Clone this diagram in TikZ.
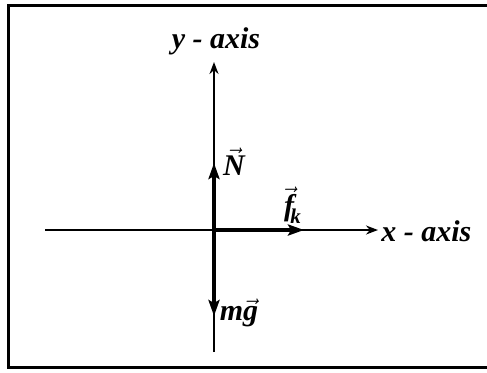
\documentclass[tikz,border=0pt]{standalone}
\usepackage{amsmath}
\usepackage{fontspec}
\setmainfont{Liberation Serif}
\usetikzlibrary{arrows.meta, positioning}

\begin{document}
\begin{tikzpicture}[
  x=0.5pt, y=-0.5pt,
  frame/.style={line width=1.5pt, black},
  axis/.style={line width=1pt, -{Stealth[length=6pt, width=4.5pt]}},
  force/.style={line width=2.2pt, -{Stealth[length=8pt, width=5.5pt, inset=1.5pt]}},
  lbl/.style={font=\fontsize{15}{17}\selectfont\bfseries\itshape, inner sep=0pt},
]
  \useasboundingbox (0,0) rectangle (487,372);

  % Frame (right side runs off the page)
  \draw[frame] (487,5) -- (8,5) -- (8,367) -- (487,367);

  % Axes
  \coordinate (O) at (214,230);
  \coordinate (xl) at (45,230);
  \coordinate (xr) at (378,230);
  \coordinate (yt) at (214,62);
  \coordinate (yb) at (214,352);
  \draw[line width=1pt] (xl) -- (O);
  \draw[axis] (O) -- (xr);
  \draw[line width=1pt] (yb) -- (O);
  \draw[axis] (O) -- (yt);
  \node[lbl, anchor=west] (xlab) at (381,231) {x - axis};
  \node[lbl] (ylab) at (216,41) {y - axis};

  % Forces
  \coordinate (Ntip) at (214,163);
  \coordinate (ftip) at (304,230);
  \coordinate (gtip) at (214,316);
  \draw[force] (O) -- (Ntip);
  \draw[force] (O) -- (ftip);
  \draw[force] (O) -- (gtip);
  \node[lbl] (Nlab) at (234,162) {$\vec{\textbf{\textit{N}}}$};
  \node[lbl] (flab) at (293,205) {$\vec{\textbf{\textit{f}}}_{\!\textbf{\textit{k}}}$};
  \node[lbl] (glab) at (239,313) {$\textbf{\textit{m}}\vec{\textbf{\textit{g}}}$};
\end{tikzpicture}
\end{document}
